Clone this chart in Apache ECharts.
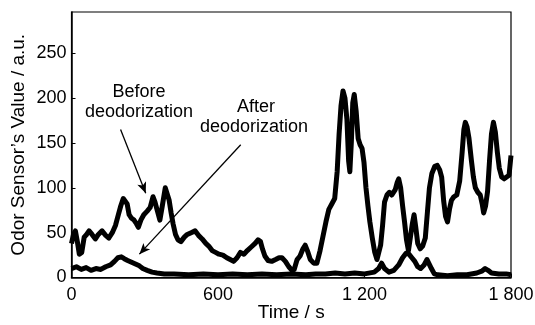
<!DOCTYPE html>
<html>
<head>
<meta charset="utf-8">
<script src="https://cdn.jsdelivr.net/npm/echarts@6/dist/echarts.min.js"></script>
<style>
  html, body { margin: 0; padding: 0; background: #fff; }
  #chart { width: 535px; height: 325px; }
</style>
</head>
<body>
<div id="chart"></div>
<script>
// time (s) and sensor value for the untreated run
const beforeTime = [0, 8, 16, 24, 32, 42, 52, 62, 72, 84, 98, 110, 125, 140, 153, 167, 180, 192, 202, 212,
  220, 228, 236, 246, 256, 266, 274, 284, 296, 310, 322, 334, 342, 352, 362, 372, 384, 392, 400, 408,
  416, 426, 436, 448, 462, 474, 490, 506, 520, 535, 550, 562, 576, 590, 604, 620, 636, 650, 664, 678,
  692, 706, 720, 736, 752, 764, 774, 782, 792, 805, 820, 836, 850, 862, 876, 890, 903, 912, 924, 936,
  948, 957, 966, 978, 992, 1005, 1018, 1030, 1042, 1054, 1066, 1078, 1088, 1096, 1104, 1112, 1120, 1128, 1135, 1140,
  1146, 1152, 1158, 1166, 1174, 1182, 1190, 1198, 1206, 1214, 1222, 1232, 1242, 1251, 1258, 1266, 1274, 1282, 1292, 1302,
  1312, 1320, 1326, 1334, 1340, 1348, 1356, 1364, 1372, 1380, 1388, 1396, 1403, 1410, 1418, 1428, 1438, 1449, 1458, 1466,
  1476, 1488, 1498, 1508, 1516, 1524, 1532, 1540, 1548, 1556, 1566, 1578, 1590, 1600, 1607, 1613, 1620, 1628, 1638, 1646,
  1654, 1664, 1674, 1682, 1688, 1696, 1704, 1712, 1720, 1728, 1736, 1744, 1752, 1762, 1772, 1782, 1792, 1800];
const beforeValue = [38, 48, 52, 40, 26, 28, 45, 48, 52, 48, 43, 48, 52, 47, 44, 50, 58, 70, 80, 88,
  90, 82, 70, 66, 64, 60, 56, 64, 70, 74, 78, 90, 84, 74, 64, 80, 100, 98, 86, 72,
  60, 48, 42, 40, 45, 48, 50, 52, 47, 43, 38, 35, 30, 28, 26, 25, 22, 20, 18, 22,
  28, 26, 30, 34, 38, 42, 40, 32, 24, 19, 18, 20, 22, 22, 18, 12, 8, 9, 20, 24,
  32, 36, 30, 20, 16, 16, 30, 46, 62, 76, 82, 88, 118, 160, 192, 208, 200, 176, 130, 118,
  150, 195, 204, 185, 155, 148, 144, 128, 100, 80, 62, 44, 28, 20, 22, 36, 58, 84, 92, 95,
  92, 90, 98, 106, 110, 100, 80, 62, 42, 30, 32, 60, 70, 56, 38, 32, 35, 44, 74, 100,
  116, 124, 125, 120, 112, 86, 68, 62, 76, 86, 90, 92, 108, 140, 165, 173, 168, 155, 130, 112,
  100, 95, 92, 82, 72, 80, 96, 130, 160, 173, 162, 140, 122, 112, 110, 112, 114, 136];

// time (s) and sensor value after deodorization
const afterTime = [0, 20, 40, 60, 80, 100, 120, 140, 160, 176, 190, 204, 216, 230, 246, 262, 278, 292, 310, 330,
  350, 380, 420, 480, 540, 600, 660, 720, 780, 840, 900, 960, 1000, 1040, 1080, 1120, 1160, 1200, 1240, 1258,
  1270, 1282, 1300, 1320, 1340, 1356, 1370, 1382, 1394, 1406, 1418, 1430, 1444, 1456, 1464, 1474, 1486, 1500, 1540, 1580,
  1620, 1660, 1680, 1694, 1706, 1720, 1750, 1780, 1800];
const afterValue = [10, 12, 9, 11, 8, 10, 9, 12, 14, 18, 22, 23, 21, 19, 17, 15, 13, 10, 8, 6,
  5, 4, 4, 3, 4, 3, 4, 3, 4, 3, 4, 3, 4, 4, 5, 4, 5, 4, 6, 10,
  16, 10, 6, 8, 14, 22, 27, 26, 22, 18, 12, 10, 14, 20, 19, 10, 4, 3, 2, 3,
  3, 5, 7, 10, 8, 5, 4, 4, 3];

const xTicks = [0, 600, 1200, 1800];
const xTickLabels = ["0", "600", "1 200", "1 800"];

const font = "'Liberation Sans', Arial, Helvetica, sans-serif";

const pairs = (xs, ys) => xs.map((x, i) => [x, ys[i]]);

const chart = echarts.init(document.getElementById("chart"));

const note = (text, x, y) => ({
  type: "text", x, y,
  style: { text, font: "18px " + font, fill: "#000", align: "center", verticalAlign: "middle" }
});

chart.setOption({
  animation: false,
  backgroundColor: "#fff",
  grid: {
    left: 71.5, right: 24, top: 12, bottom: 47.5,
    outerBoundsMode: "none",
    show: true, borderColor: "#000", borderWidth: 1.2
  },
  xAxis: {
    type: "value",
    min: 0, max: 1800, interval: 600,
    name: "Time / s",
    nameLocation: "middle",
    nameGap: 26,
    nameMoveOverlap: false,
    nameTextStyle: { fontFamily: font, fontSize: 19, color: "#000" },
    axisLine: { show: true, lineStyle: { color: "#000", width: 1.5 } },
    axisTick: { show: true, inside: true, length: 4, lineStyle: { color: "#000" } },
    axisLabel: {
      fontFamily: font, fontSize: 18, color: "#000", margin: 9,
      formatter: (v) => {
        const i = xTicks.indexOf(v);
        return i >= 0 ? xTickLabels[i] : "";
      }
    },
    splitLine: { show: false }
  },
  yAxis: {
    type: "value",
    min: 0, max: 296, interval: 50,
    name: "Odor Sensor\u2019s Value / a.u.",
    nameLocation: "middle",
    nameGap: 43,
    nameMoveOverlap: false,
    nameTextStyle: { fontFamily: font, fontSize: 19, color: "#000" },
    axisLine: { show: true, lineStyle: { color: "#000", width: 1.5 } },
    axisTick: { show: true, inside: true, length: 4, lineStyle: { color: "#000" } },
    axisLabel: { fontFamily: font, fontSize: 18, color: "#000", margin: 5, showMaxLabel: false },
    splitLine: { show: false }
  },
  series: [
    {
      name: "Before deodorization",
      type: "line",
      data: pairs(beforeTime, beforeValue),
      showSymbol: false,
      lineStyle: { color: "#000", width: 5, join: "round" },
      z: 3
    },
    {
      name: "After deodorization",
      type: "line",
      data: pairs(afterTime, afterValue),
      showSymbol: false,
      lineStyle: { color: "#000", width: 5, join: "round" },
      z: 3,
      markLine: {
        silent: true,
        symbol: ["none", "arrow"],
        symbolSize: [7, 11],
        label: { show: false },
        lineStyle: { color: "#000", width: 1.3, type: "solid" },
        data: [
          [{ coord: [201, 165] }, { coord: [304, 94] }],
          [{ coord: [693, 148] }, { coord: [278, 26] }]
        ]
      }
    }
  ],
  graphic: [
    note("Before", 139, 92),
    note("deodorization", 139, 112),
    note("After", 256, 107),
    note("deodorization", 254, 127)
  ]
});
</script>
</body>
</html>
